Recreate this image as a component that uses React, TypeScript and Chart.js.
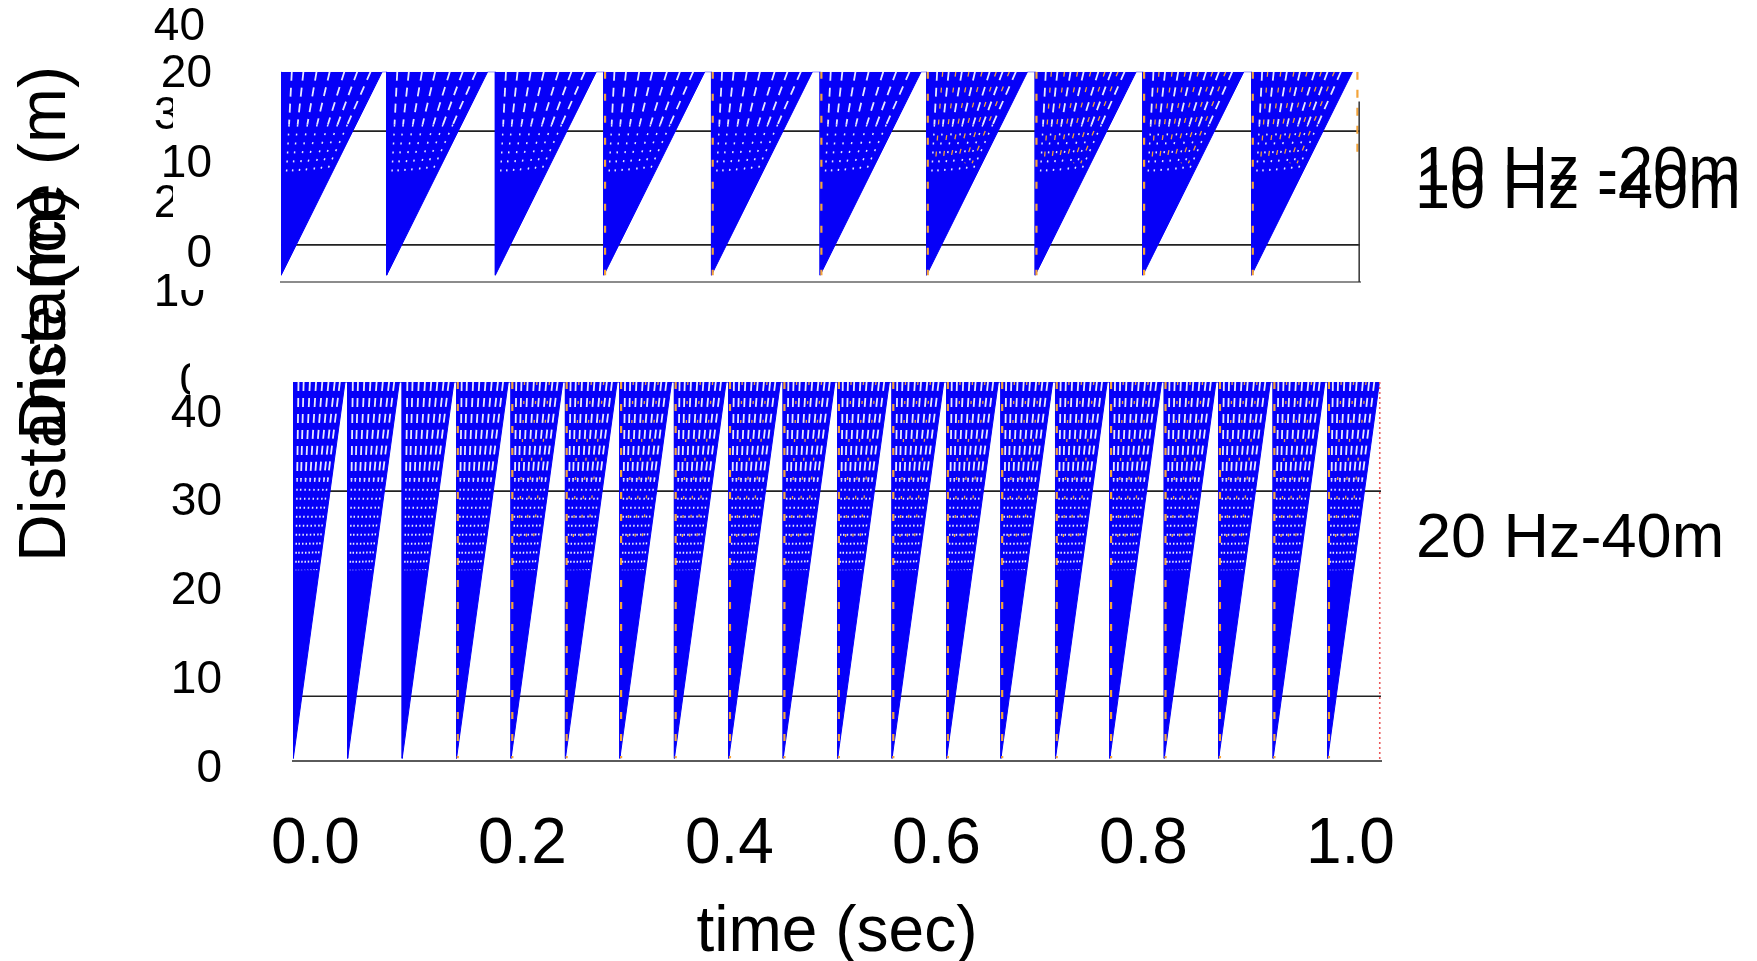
import React, { useEffect, useRef } from 'react';
import { Chart, registerables } from 'chart.js';

Chart.register(...registerables);

const FONT = '"Liberation Sans", Arial, Helvetica, sans-serif';
const PAGE_W = 1757;
const PAGE_H = 961;
const TOP_CANVAS_H = 300;

// Upper panel: 10 Hz ramps, start time of each ramp (s)
const topPulseStarts = [-0.0331, 0.0688, 0.1738, 0.2786, 0.3826, 0.4876, 0.5904, 0.6954, 0.7994, 0.9044];
const topRampDuration = 0.0976;
const topRampFrom = -2.3;
const topRampTo = 20.3;
const topGuideLevels = [13.7, 1.06];
const topYTicks = [0, 10, 20];
const topEchoPulses = [3, 4, 5, 6, 7, 8, 9];
const topEchoFanPulses = [6, 7, 8, 9];

// Lower panel: 20 Hz ramps, start time of each ramp (s)
const bottomPulseStarts = [
  -0.0214, 0.0311, 0.0838, 0.1363, 0.189, 0.2415, 0.2941, 0.3468, 0.3993, 0.4519,
  0.5045, 0.5571, 0.6098, 0.6623, 0.715, 0.7675, 0.8201, 0.8727, 0.9253, 0.978,
];
const bottomRampDuration = 0.05;
const bottomRampFrom = 1.2;
const bottomRampTo = 43.6;
const bottomGuideLevels = [31.3, 8.2];
const bottomYTicks = [0, 10, 20, 30, 40];
const bottomEchoPulses = [3, 4, 5, 6, 7, 8, 9, 10, 11, 12, 13, 14, 15, 16, 17, 18, 19];
const bottomEchoFanPulses = [4, 5, 6, 7, 8, 9, 10, 11, 12, 13, 14, 15, 16, 17, 18, 19];

const timeTicks = [0, 0.2, 0.4, 0.6, 0.8, 1.0];

// Labels of the stacked axis that sits behind both panels
const underlayTicks = [0, 10, 20, 30, 40];

// Beam directions inside a ramp, as a share of the ramp width
const topFanFractions = [0.105, 0.22, 0.35, 0.48, 0.625, 0.753, 0.885];
const bottomFanFractions = [0.1, 0.2, 0.32, 0.44, 0.56, 0.68, 0.8, 0.9];
const topEchoFractions = [0.16, 0.29, 0.42, 0.55, 0.69, 0.82];
const bottomEchoFractions = [0.26, 0.5, 0.74];

const panelLabels = ['10 Hz -20m', '10 Hz -40m'];
const lowerLabel = '20 Hz-40m';
const yTitle = 'Distance (m)';
const xTitle = 'time (sec)';

// Axis ranges
const TOP_X = { min: -0.0333, max: 1.0092 };
const TOP_Y = { min: -3.06, max: 20.3 };
const BOT_X = { min: -0.0217, max: 1.0295 };
const BOT_Y = { min: 0.9, max: 43.6 };

const BLUE = 'rgb(6,0,248)';
const ORANGE = 'rgb(244,164,58)';
const BEAM = 'rgb(232,232,255)';

type Pt = { x: number; y: number | null };

// Sawtooth outline: vertical rise at the ramp start, straight sweep to the top
function rampPath(starts: number[], dur: number, from: number, to: number): Pt[] {
  const pts: Pt[] = [];
  for (const t of starts) {
    pts.push({ x: t, y: to }, { x: t, y: from }, { x: t + dur, y: to });
  }
  return pts;
}

// Beam segments from the ramp apex towards the top edge, between two depths
function fanPath(
  starts: number[], dur: number, from: number, to: number,
  fractions: number[], sHi: number, sLo: number,
): Pt[] {
  const pts: Pt[] = [];
  for (const t of starts) {
    for (const f of fractions) {
      pts.push({ x: t + sHi * f * dur, y: from + sHi * (to - from) });
      pts.push({ x: t + sLo * f * dur, y: from + sLo * (to - from) });
      pts.push({ x: t, y: null });
    }
  }
  return pts;
}

function edgePath(times: number[], from: number, to: number, dx: number): Pt[] {
  const pts: Pt[] = [];
  for (const t of times) {
    pts.push({ x: t + dx, y: to }, { x: t + dx, y: from }, { x: t, y: null });
  }
  return pts;
}

function levelPath(levels: number[], a: number, b: number): Pt[] {
  const pts: Pt[] = [];
  for (const l of levels) {
    pts.push({ x: a, y: l }, { x: b, y: l }, { x: a, y: null });
  }
  return pts;
}

const pick = (arr: number[], idx: number[]) => idx.map((i) => arr[i]);

function lineSet(label: string, data: Pt[], color: string, width: number, dash: number[], order: number, extra: object = {}) {
  return {
    label,
    data,
    borderColor: color,
    backgroundColor: color,
    borderWidth: width,
    borderDash: dash,
    pointRadius: 0,
    pointHoverRadius: 0,
    tension: 0,
    fill: false,
    spanGaps: false,
    order,
    ...extra,
  };
}

function panelDatasets(
  starts: number[], dur: number, from: number, to: number,
  guides: number[], xr: { min: number; max: number },
  fan: number[], echoIdx: number[], echoFanIdx: number[], echoFan: number[],
  echoDash: number[],
) {
  return [
    lineSet('guides', levelPath(guides, xr.min, xr.max), '#222', 1.6, [], 10),
    lineSet('ramps', rampPath(starts, dur, from, to), BLUE, 1, [], 6, { fill: 'end' }),
    lineSet('echo edges', edgePath(pick(starts, echoIdx), from, to, 0.0012), ORANGE, 2.2, [7, 15], 4),
    lineSet('echo beams', fanPath(pick(starts, echoFanIdx), dur, from, to, echoFan, 1, 0.55), ORANGE, 1.3, echoDash, 3),
    lineSet('beams upper', fanPath(starts, dur, from, to, fan, 1, 0.74), BEAM, 1.8, [9, 7], 2),
    lineSet('beams lower', fanPath(starts, dur, from, to, fan, 0.74, 0.5), BEAM, 1.5, [2, 7], 1),
  ];
}

function topConfig(): any {
  const datasets: any[] = panelDatasets(
    topPulseStarts, topRampDuration, topRampFrom, topRampTo, topGuideLevels, TOP_X,
    topFanFractions, topEchoPulses, topEchoFanPulses, topEchoFractions, [5, 11],
  );
  datasets.push(lineSet('right frame', edgePath([TOP_X.max - 0.0008], TOP_Y.min, 17, 0), '#333', 1.5, [], 0));
  datasets.push(lineSet('right echo', edgePath([TOP_X.max - 0.0025], 10.5, TOP_Y.max, 0), ORANGE, 2.2, [8, 10], 0));
  return {
    type: 'line',
    data: { datasets },
    options: {
      animation: false,
      responsive: false,
      maintainAspectRatio: false,
      devicePixelRatio: 1,
      events: [],
      layout: { padding: { left: 0, top: 71.7, right: PAGE_W - 1360, bottom: TOP_CANVAS_H - 282 - 10 } },
      plugins: { legend: { display: false }, tooltip: { enabled: false } },
      scales: {
        x: {
          type: 'linear', min: TOP_X.min, max: TOP_X.max,
          ticks: { display: false },
          grid: { display: false, drawTicks: false },
          border: { display: true, color: '#8c8c8c', width: 2 },
          afterFit: (s: any) => { s.height = 10; s.paddingLeft = 0; s.paddingRight = 0; },
        },
        y: {
          type: 'linear', min: TOP_Y.min, max: TOP_Y.max,
          afterBuildTicks: (s: any) => { s.ticks = topYTicks.map((v) => ({ value: v })); },
          ticks: { autoSkip: false, padding: 69, color: '#000', font: { family: FONT, size: 46 }, callback: (v: any) => String(v) },
          grid: { display: false, drawTicks: false },
          border: { display: false },
          afterFit: (s: any) => { s.width = 281; s.paddingTop = 0; s.paddingBottom = 0; },
        },
      },
    },
  };
}

// Text that sits around the panels: stacked axis remnants, axis title, panel captions
const overlayText = {
  id: 'overlayText',
  beforeDraw(chart: any) {
    const ctx = chart.ctx as CanvasRenderingContext2D;
    ctx.save();
    ctx.beginPath();
    ctx.rect(0, 0, PAGE_W, PAGE_H);
    ctx.rect(173, 50, PAGE_W - 173, 240);
    ctx.rect(190, 330, PAGE_W - 190, PAGE_H - 330);
    ctx.clip('evenodd');
    ctx.fillStyle = '#000';
    ctx.font = `46px ${FONT}`;
    ctx.textAlign = 'right';
    ctx.textBaseline = 'middle';
    for (const v of underlayTicks) ctx.fillText(String(v), 205, 382 - v * 8.87);
    ctx.restore();
  },
  afterDraw(chart: any) {
    const ctx = chart.ctx as CanvasRenderingContext2D;
    ctx.save();
    ctx.fillStyle = '#000';
    ctx.textAlign = 'left';
    ctx.textBaseline = 'alphabetic';
    ctx.font = `66px ${FONT}`;
    for (const [x, y] of [[65, 562], [65, 440]]) {
      ctx.save();
      ctx.translate(x, y);
      ctx.rotate(-Math.PI / 2);
      ctx.fillText(yTitle, 0, 0);
      ctx.restore();
    }
    ctx.font = `63px ${FONT}`;
    ctx.fillText(panelLabels[0], 1415, 190);
    ctx.fillText(panelLabels[1], 1415, 208);
    ctx.fillText(lowerLabel, 1416, 557);
    ctx.restore();
  },
};

function bottomConfig(): any {
  const datasets: any[] = panelDatasets(
    bottomPulseStarts, bottomRampDuration, bottomRampFrom, bottomRampTo, bottomGuideLevels, BOT_X,
    bottomFanFractions, bottomEchoPulses, bottomEchoFanPulses, bottomEchoFractions, [3, 16],
  );
  datasets.push(lineSet('right frame', edgePath([BOT_X.max - 0.0012], BOT_Y.min, BOT_Y.max, 0), 'rgb(235,90,90)', 1.6, [2, 3], 0));
  return {
    type: 'line',
    data: { datasets },
    plugins: [overlayText],
    options: {
      animation: false,
      responsive: false,
      maintainAspectRatio: false,
      devicePixelRatio: 1,
      events: [],
      layout: { padding: { left: 0, top: 382, right: PAGE_W - 1381, bottom: PAGE_H - 761 - 191.2 } },
      plugins: { legend: { display: false }, tooltip: { enabled: false } },
      scales: {
        x: {
          type: 'linear', min: BOT_X.min, max: BOT_X.max,
          afterBuildTicks: (s: any) => { s.ticks = timeTicks.map((v) => ({ value: v })); },
          ticks: {
            autoSkip: false, maxRotation: 0, padding: 45.6, color: '#000',
            font: { family: FONT, size: 64 },
            callback: (v: any) => Number(v).toFixed(1),
          },
          grid: { display: false, drawTicks: false },
          border: { display: true, color: '#5a5a5a', width: 2 },
          title: { display: true, text: xTitle, color: '#000', padding: 0, font: { family: FONT, size: 64, lineHeight: 0.6 } },
          afterFit: (s: any) => { s.height = 191.2; s.paddingLeft = 0; s.paddingRight = 0; },
        },
        y: {
          type: 'linear', min: BOT_Y.min, max: BOT_Y.max,
          afterBuildTicks: (s: any) => { s.ticks = bottomYTicks.map((v) => ({ value: v })); },
          ticks: { autoSkip: false, padding: 71, color: '#000', font: { family: FONT, size: 46 }, callback: (v: any) => String(v) },
          grid: { display: false, drawTicks: false },
          border: { display: false },
          afterFit: (s: any) => { s.width = 293; s.paddingTop = 0; s.paddingBottom = 0; },
        },
      },
    },
  };
}

export default function App() {
  const topRef = useRef<HTMLCanvasElement>(null);
  const bottomRef = useRef<HTMLCanvasElement>(null);

  useEffect(() => {
    const bottom = new Chart(bottomRef.current as HTMLCanvasElement, bottomConfig());
    const top = new Chart(topRef.current as HTMLCanvasElement, topConfig());
    return () => {
      top.destroy();
      bottom.destroy();
    };
  }, []);

  return (
    <div style={{ position: 'fixed', left: 0, top: 0, width: PAGE_W, height: PAGE_H, background: '#fff', overflow: 'hidden' }}>
      <canvas ref={bottomRef} width={PAGE_W} height={PAGE_H} style={{ position: 'absolute', left: 0, top: 0 }} />
      <canvas ref={topRef} width={PAGE_W} height={TOP_CANVAS_H} style={{ position: 'absolute', left: 0, top: 0 }} />
    </div>
  );
}
